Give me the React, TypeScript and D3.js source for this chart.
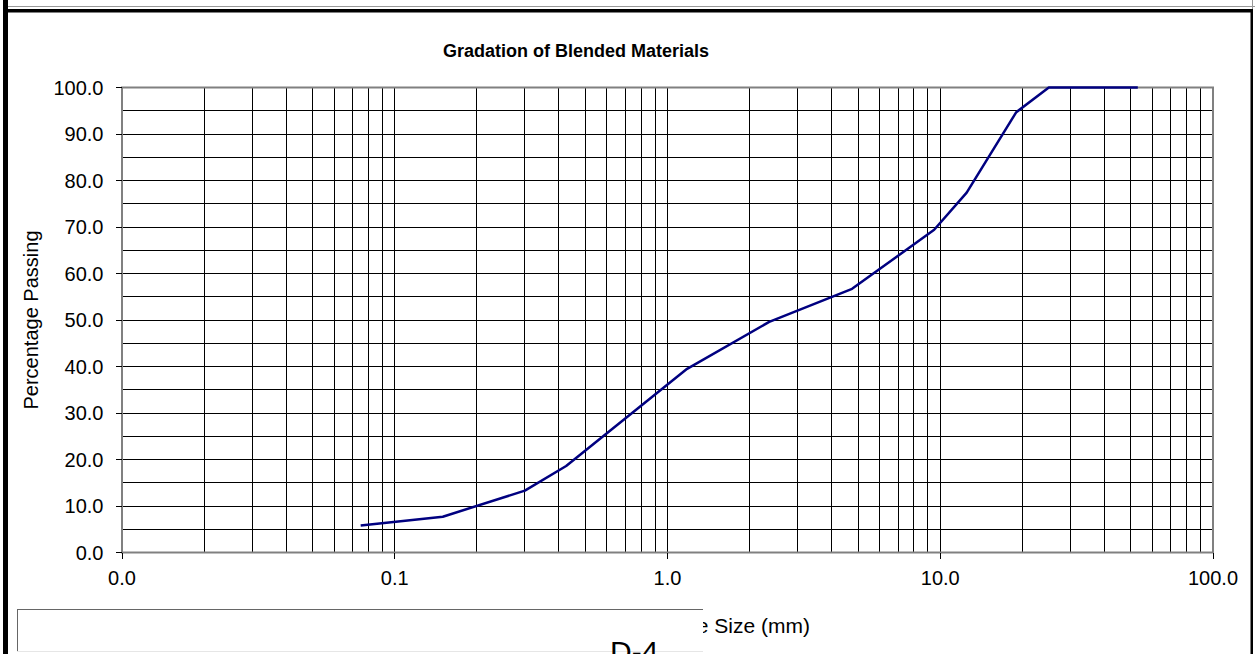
import React from 'react'
import * as d3 from 'd3'

// sieve sizes (mm) and blended percentage passing
const sieveSizes = [0.075, 0.15, 0.3, 0.425, 1.18, 2.36, 4.75, 9.5, 12.5, 19, 25, 37.5, 53]
const percentPassing = [5.8, 7.7, 13.3, 18.6, 39.5, 49.6, 56.7, 69.4, 77.4, 94.7, 100, 100, 100]

const xDecades = [0.01, 0.1, 1, 10, 100]
const yMajor = [0, 10, 20, 30, 40, 50, 60, 70, 80, 90, 100]

const chartTitle = 'Gradation of Blended Materials'
const xTitle = 'Particle Size (mm)'
const yTitle = 'Percentage Passing'
const pageLabel = 'D-4'

const width = 1255,
    height = 654
const left = 122,
    right = 1213,
    top = 87.5,
    bottom = 552.5
const font = 'Arial, "Liberation Sans", sans-serif'

// snap to pixel centre so 1px lines stay black
const px = (v: number) => Math.round(v - 0.5) + 0.5

const App = () => {
    const x = d3.scaleLog().domain([0.01, 100]).range([left, right])
    const y = d3.scaleLinear().domain([0, 100]).range([bottom, top])

    // log grid: every 1..9 multiple in each decade
    const xGrid = x.ticks()
    const yGrid = d3.range(0, 101, 5)
    const fmt = d3.format('.1f')

    const line = d3.line<number>()
        .x((d, i) => x(sieveSizes[i]))
        .y(d => y(d))

    return (
        <svg width={width} height={height} style={{ position: 'absolute', left: 0, top: 0, background: '#fff' }}>
            {/* page frame */}
            <rect x={0} y={0} width={width} height={height} fill="#fff" />
            <line x1={8} x2={width} y1={6.5} y2={6.5} stroke="#999" strokeWidth={1} />
            <rect x={3} y={9} width={1250} height={3.5} fill="#000" />
            <rect x={3} y={0} width={5} height={height} fill="#000" />
            <line x1={1252.5} x2={1252.5} y1={0} y2={9} stroke="#999" strokeWidth={1} />
            <rect x={1250.5} y={9} width={2.5} height={height} fill="#000" />

            <text x={576} y={56.5} textAnchor="middle" fontFamily={font} fontWeight="bold" fontSize={18}>
                {chartTitle}
            </text>

            {/* grid */}
            <g shapeRendering="crispEdges">
                {yGrid.map(v => (
                    <line key={'h' + v} x1={left} x2={right} y1={px(y(v))} y2={px(y(v))} stroke="#000" strokeWidth={1} />
                ))}
                {xGrid.map(v => (
                    <line key={'v' + v} x1={px(x(v))} x2={px(x(v))} y1={top} y2={bottom} stroke="#000" strokeWidth={1} />
                ))}
            </g>
            <rect x={left} y={top} width={right - left} height={bottom - top} fill="none" stroke="#808080" strokeWidth={2} />

            {/* y axis */}
            {yMajor.map(v => (
                <g key={'yt' + v}>
                    <line x1={left - 6} x2={left} y1={px(y(v))} y2={px(y(v))} stroke="#000" strokeWidth={1} shapeRendering="crispEdges" />
                    <text x={103.5} y={y(v)} dy="0.36em" textAnchor="end" fontFamily={font} fontSize={20}>
                        {fmt(v)}
                    </text>
                </g>
            ))}
            <text transform={`translate(38,${(top + bottom) / 2}) rotate(-90)`} textAnchor="middle" fontFamily={font} fontSize={20}>
                {yTitle}
            </text>

            {/* x axis */}
            {xDecades.map(v => (
                <g key={'xt' + v}>
                    <line x1={px(x(v))} x2={px(x(v))} y1={bottom} y2={bottom + 6} stroke="#000" strokeWidth={1} shapeRendering="crispEdges" />
                    <text x={x(v)} y={585} textAnchor="middle" fontFamily={font} fontSize={20}>
                        {fmt(v)}
                    </text>
                </g>
            ))}
            <text x={810} y={633} textAnchor="end" fontFamily={font} fontSize={21}>
                {xTitle}
            </text>

            {/* blended gradation curve */}
            <path d={line(percentPassing) || ''} fill="none" stroke="#000080" strokeWidth={2.5} strokeLinejoin="round" />

            {/* empty caption box overlapping the axis title */}
            <rect x={17} y={609} width={686} height={42} fill="#fff" />
            <line x1={17} x2={703} y1={609.5} y2={609.5} stroke="#666" strokeWidth={1} />
            <line x1={17.5} x2={17.5} y1={609} y2={651} stroke="#666" strokeWidth={1} />
            <line x1={17} x2={703} y1={651.5} y2={651.5} stroke="#e6e6e6" strokeWidth={1} />
            <text x={610} y={661.5} fontFamily={font} fontSize={30}>
                {pageLabel}
            </text>
        </svg>
    )
}

export default App
